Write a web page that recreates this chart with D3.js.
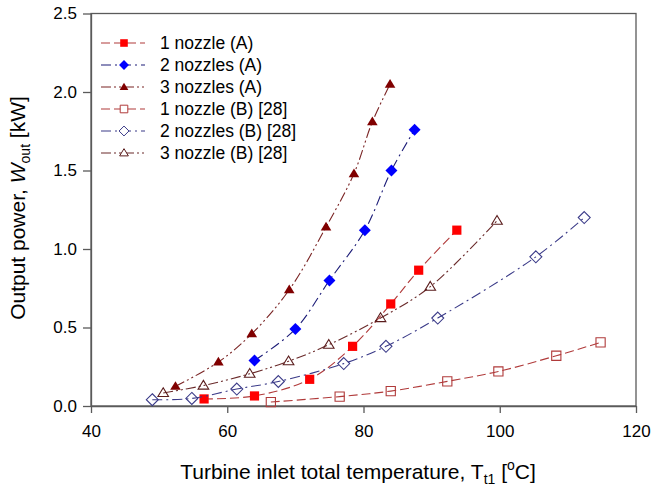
<!DOCTYPE html>
<html lang="en">
<head>
    <meta charset="utf-8">
    <title>Output power vs turbine inlet temperature</title>
    <script src="https://cdn.jsdelivr.net/npm/d3@7"></script>
    <style>
        body { margin: 0; background: #fff; }
        text { font-family: "Liberation Sans", Arial, sans-serif; fill: #000; }
    </style>
</head>
<body>
<script>
    // series data
    var tempA1 = [56.6, 64.0, 72.1, 78.4, 84.0, 88.1, 93.7];
    var powA1 = [0.045, 0.064, 0.17, 0.38, 0.65, 0.865, 1.12];
    var tempA2 = [64.0, 70.0, 75.0, 80.2, 84.1, 87.5];
    var powA2 = [0.29, 0.49, 0.80, 1.12, 1.50, 1.76];
    var tempA3 = [52.4, 58.7, 63.6, 69.1, 74.5, 78.6, 81.3, 83.9];
    var powA3 = [0.125, 0.28, 0.46, 0.74, 1.14, 1.48, 1.81, 2.05];
    var tempB1 = [66.4, 76.5, 84.0, 92.3, 99.8, 108.3, 114.8];
    var powB1 = [0.025, 0.06, 0.095, 0.157, 0.22, 0.32, 0.405];
    var tempB2 = [49.0, 54.8, 61.4, 67.5, 77.1, 83.3, 90.9, 105.3, 112.4];
    var powB2 = [0.04, 0.048, 0.108, 0.156, 0.27, 0.38, 0.56, 0.95, 1.2];
    var tempB3 = [50.6, 56.5, 63.3, 69.0, 74.9, 82.5, 89.8, 99.6];
    var powB3 = [0.083, 0.13, 0.205, 0.285, 0.39, 0.56, 0.76, 1.18];

    var seriesNames = ["1 nozzle (A)", "2 nozzles (A)", "3 nozzles (A)",
        "1 nozzle (B) [28]", "2 nozzles (B) [28]", "3 nozzle (B) [28]"];
    var xTicks = [40, 60, 80, 100, 120];
    var yTicks = [0, 0.5, 1.0, 1.5, 2.0, 2.5];

    // styling per series
    var styles = [
        {shape: "square", fill: "#ff0000", stroke: "none", line: "#b03a3a", dash: "9,4"},
        {shape: "diamond", fill: "#0000ff", stroke: "none", line: "#1c1c78", dash: "10,4,2,4"},
        {shape: "triangle", fill: "#800000", stroke: "none", line: "#7a2424", dash: "10,3,2,3,2,3"},
        {shape: "square", fill: "none", stroke: "#b03a3a", line: "#b03a3a", dash: "9,4"},
        {shape: "diamond", fill: "none", stroke: "#3a3a88", line: "#3a3a88", dash: "10,4,2,4"},
        {shape: "triangle", fill: "none", stroke: "#5a1c1c", line: "#6a2a2a", dash: "10,3,2,3,2,3"}
    ];

    var temps = [tempA1, tempA2, tempA3, tempB1, tempB2, tempB3];
    var pows = [powA1, powA2, powA3, powB1, powB2, powB3];
    var series = temps.map(function (t, i) {
        return {
            name: seriesNames[i],
            style: styles[i],
            points: t.map(function (v, j) { return {x: v, y: pows[i][j]}; })
        };
    });

    var width = 651, height = 488;
    var plotL = 91, plotR = 636, plotT = 13.5, plotB = 406;

    var svg = d3.select("body").append("svg")
            .attr("width", width)
            .attr("height", height);

    var x = d3.scaleLinear().domain([40, 120]).range([plotL, plotR]);
    var y = d3.scaleLinear().domain([0, 2.5]).range([plotB, plotT]);

    // marker shapes
    function marker(shape, r) {
        if (shape === "square") {
            return "M" + (-r) + "," + (-r) + "H" + r + "V" + r + "H" + (-r) + "Z";
        }
        if (shape === "diamond") {
            var d = r * 1.3;
            return "M0," + (-d) + "L" + d + ",0L0," + d + "L" + (-d) + ",0Z";
        }
        var h = r * 1.9, w = r * 1.15;
        return "M0," + (-h * 0.6) + "L" + w + "," + (h * 0.4) + "L" + (-w) + "," + (h * 0.4) + "Z";
    }

    // frame
    svg.append("rect")
            .attr("x", plotL).attr("y", plotT)
            .attr("width", plotR - plotL).attr("height", plotB - plotT)
            .attr("fill", "none")
            .attr("stroke", "#5a5a5a")
            .attr("stroke-width", 1.3);

    var xAxis = svg.append("g")
            .attr("transform", "translate(0," + plotB + ")")
            .call(d3.axisBottom(x).tickValues(xTicks).tickSize(7).tickSizeOuter(0).tickPadding(12));
    var yAxis = svg.append("g")
            .attr("transform", "translate(" + plotL + ",0)")
            .call(d3.axisLeft(y).tickValues(yTicks).tickFormat(d3.format(".1f")).tickSize(8).tickSizeOuter(0).tickPadding(6));
    [xAxis, yAxis].forEach(function (g) {
        g.select(".domain").attr("stroke", "#5a5a5a").attr("stroke-width", 1.3);
        g.selectAll(".tick line").attr("stroke", "#5a5a5a").attr("stroke-width", 1.3);
        g.selectAll(".tick text")
                .style("font-family", '"Liberation Sans", Arial, sans-serif')
                .style("font-size", "17px")
                .attr("fill", "#000");
    });

    // lines + markers
    var line = d3.line()
            .x(function (d) { return x(d.x); })
            .y(function (d) { return y(d.y); })
            .curve(d3.curveCatmullRom.alpha(0.5));

    var gs = svg.append("g").selectAll("g")
            .data(series)
            .enter().append("g");

    gs.append("path")
            .attr("d", function (d) { return line(d.points); })
            .attr("fill", "none")
            .attr("stroke", function (d) { return d.style.line; })
            .attr("stroke-width", 1.1)
            .attr("stroke-dasharray", function (d) { return d.style.dash; });

    gs.each(function (s) {
        d3.select(this).selectAll(".mk")
                .data(s.points)
                .enter().append("path")
                .attr("class", "mk")
                .attr("transform", function (d) { return "translate(" + x(d.x) + "," + y(d.y) + ")"; })
                .attr("d", marker(s.style.shape, 4.6))
                .attr("fill", s.style.fill === "none" ? "#fff" : s.style.fill)
                .attr("fill-opacity", s.style.fill === "none" ? 0 : 1)
                .attr("stroke", s.style.stroke)
                .attr("stroke-width", 1.1);
    });

    // legend
    var legend = svg.append("g").selectAll("g")
            .data(series)
            .enter().append("g")
            .attr("transform", function (d, i) { return "translate(0," + (43 + i * 22) + ")"; });
    legend.append("line")
            .attr("x1", 101).attr("x2", 145)
            .attr("stroke", function (d) { return d.style.line; })
            .attr("stroke-width", 1.1)
            .attr("stroke-dasharray", function (d) { return d.style.dash; });
    legend.append("path")
            .attr("transform", "translate(124,0)")
            .attr("d", function (d) { return marker(d.style.shape, 3.8); })
            .attr("fill", function (d) { return d.style.fill === "none" ? "#fff" : d.style.fill; })
            .attr("stroke", function (d) { return d.style.stroke; })
            .attr("stroke-width", 1);
    legend.append("text")
            .attr("x", 160).attr("y", 6)
            .style("font-size", "17.5px")
            .text(function (d) { return d.name; });

    // axis titles
    var xt = svg.append("text")
            .attr("x", 358).attr("y", 479)
            .attr("text-anchor", "middle")
            .style("font-size", "21px");
    xt.append("tspan").text("Turbine inlet total temperature, T");
    xt.append("tspan").attr("dy", 5).style("font-size", "14px").text("t1");
    xt.append("tspan").attr("dy", -5).text(" [");
    xt.append("tspan").attr("dy", -9).style("font-size", "14px").text("o");
    xt.append("tspan").attr("dy", 9).text("C]");

    var yt = svg.append("text")
            .attr("transform", "translate(25,208) rotate(-90)")
            .attr("text-anchor", "middle")
            .style("font-size", "21px");
    yt.append("tspan").text("Output power, ");
    yt.append("tspan").style("font-style", "italic").text("W");
    yt.append("tspan").attr("dy", 5).style("font-size", "14px").text("out");
    yt.append("tspan").attr("dy", -5).text(" [kW]");
</script>
</body>
</html>
